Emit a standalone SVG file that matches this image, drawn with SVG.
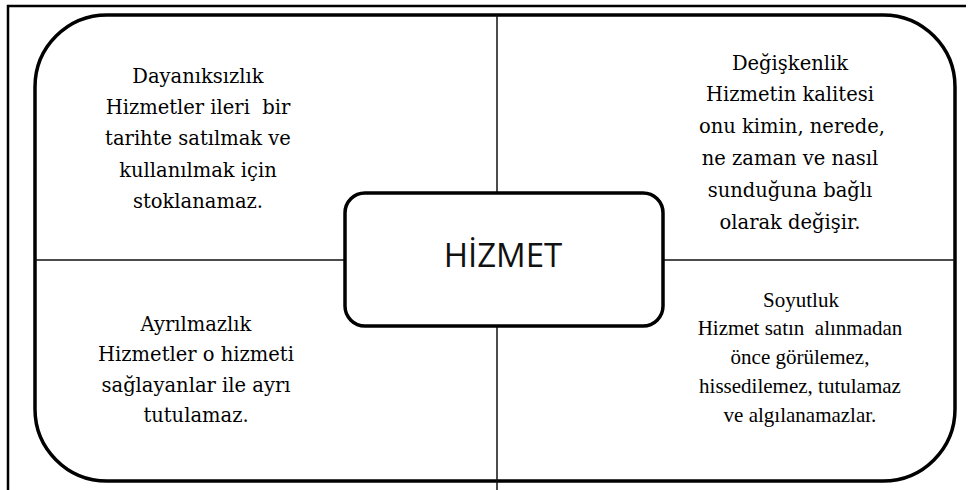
<svg xmlns="http://www.w3.org/2000/svg" width="971" height="490" viewBox="0 0 971 490">
  <style>
    .frame { fill: none; stroke: #000; stroke-width: 2.5; }
    .outer { fill: #fff; stroke: #000; stroke-width: 3.5; }
    .divider { stroke: #111; stroke-width: 1.5; fill: none; }
    .core { fill: #fff; stroke: #000; stroke-width: 3.5; }
    .title { font-family: 'Open Sans', 'Liberation Sans', sans-serif; font-size: 33px; fill: #111; text-anchor: middle; }
    .body { font-family: 'DejaVu Serif', serif; font-size: 19.5px; fill: #000; text-anchor: middle; }
    .body-sm { font-family: 'Liberation Serif', 'Times New Roman', serif; font-size: 21px; fill: #000; text-anchor: middle; }
  </style>

  <rect x="0" y="0" width="971" height="490" fill="#fff"/>

  <!-- page frame: top and left rules -->
  <path class="frame" d="M966 6 H8 V490"/>

  <!-- rounded outer panel -->
  <rect id="panel" class="outer" x="35" y="15" width="920" height="466" rx="72" ry="72"/>

  <!-- quadrant dividers -->
  <g id="connectors">
    <line class="divider" x1="497" y1="15" x2="497" y2="193"/>
    <line class="divider" x1="497" y1="326" x2="497" y2="490"/>
    <line class="divider" x1="35" y1="260" x2="345" y2="260"/>
    <line class="divider" x1="663" y1="260" x2="955" y2="260"/>
  </g>

  <g id="hizmet">
    <rect class="core" x="345" y="193" width="318" height="133" rx="20" ry="20"/>
    <text class="title" x="503" y="267">HİZMET</text>
  </g>

  <g id="dayaniksizlik" class="body">
    <text x="198" y="83">Dayanıksızlık</text>
    <text x="198" y="114" xml:space="preserve">Hizmetler ileri  bir</text>
    <text x="198" y="145">tarihte satılmak ve</text>
    <text x="198" y="177">kullanılmak için</text>
    <text x="198" y="208">stoklanamaz.</text>
  </g>

  <g id="degiskenlik" class="body">
    <text x="790" y="70">Değişkenlik</text>
    <text x="790" y="101">Hizmetin kalitesi</text>
    <text x="792" y="133">onu kimin, nerede,</text>
    <text x="790" y="165">ne zaman ve nasıl</text>
    <text x="790" y="197">sunduğuna bağlı</text>
    <text x="790" y="229">olarak değişir.</text>
  </g>

  <g id="ayrilmazlik" class="body">
    <text x="196" y="331">Ayrılmazlık</text>
    <text x="196" y="361">Hizmetler o hizmeti</text>
    <text x="196" y="392">sağlayanlar ile ayrı</text>
    <text x="196" y="422">tutulamaz.</text>
  </g>

  <g id="soyutluk" class="body-sm">
    <text x="801" y="307">Soyutluk</text>
    <text x="800" y="335" xml:space="preserve">Hizmet satın  alınmadan</text>
    <text x="800" y="364">önce görülemez,</text>
    <text x="800" y="393">hissedilemez, tutulamaz</text>
    <text x="800" y="422">ve algılanamazlar.</text>
  </g>
</svg>
